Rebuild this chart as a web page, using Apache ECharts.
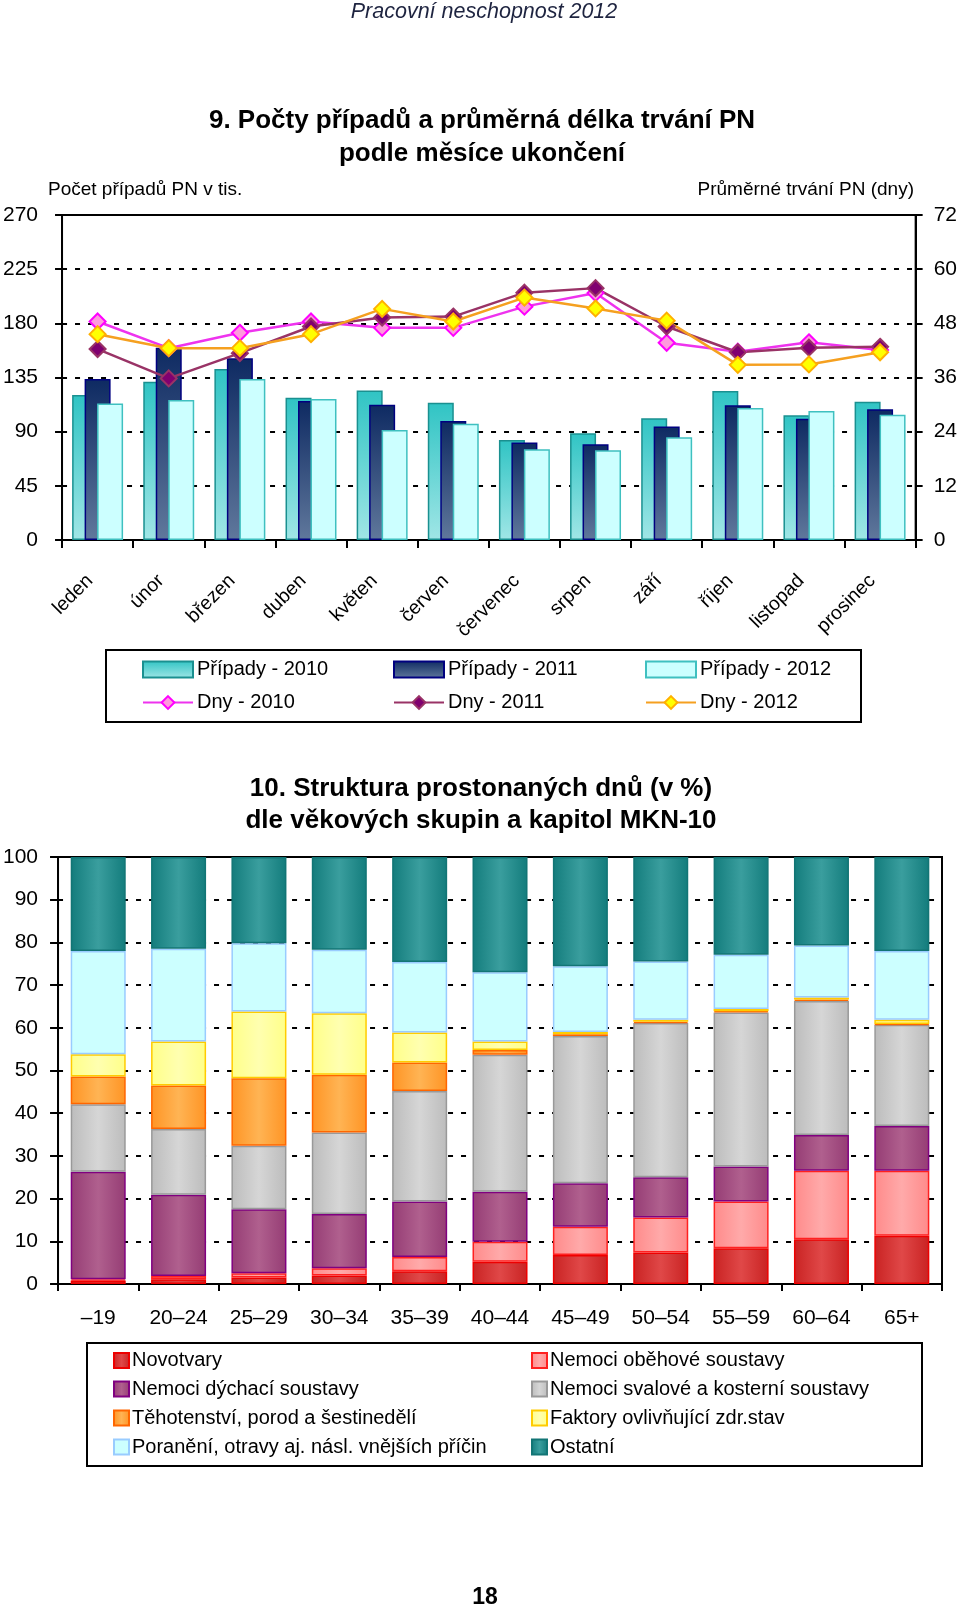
<!DOCTYPE html>
<html>
<head>
<meta charset="utf-8">
<script src="https://cdn.jsdelivr.net/npm/echarts@6/dist/echarts.min.js"></script>
<style>
html,body{margin:0;padding:0;background:#fff;}
#c{width:960px;height:1610px;}
</style>
</head>
<body>
<div id="c"></div>
<script>
// ---------- Chart 9 data ----------
const months = ['leden','únor','březen','duben','květen','červen','červenec','srpen','září','říjen','listopad','prosinec'];
const pripady2010 = [120.5,131.5,142,118.2,124.3,114.1,83.1,88.6,101.1,123.8,103.6,114.9];
const pripady2011 = [133.8,159.8,151,115.5,112.4,98.9,80.9,79.5,94.2,111.9,100.8,108.6];
const pripady2012 = [113.5,116.3,133.8,117.1,91.4,96.6,75.3,74.5,85.3,109.7,107.2,104.1];
const dny2010 = [48.4,42.5,45.9,48.4,47.0,47.0,51.7,54.7,43.7,41.7,43.8,42.1];
const dny2011 = [42.3,35.8,41.4,47.3,49.3,49.5,54.8,55.8,47.3,41.6,42.6,42.8];
const dny2012 = [45.6,42.5,42.5,45.6,51.2,48.4,53.7,51.3,48.6,38.8,38.9,41.6];
const leftTicks = [0,45,90,135,180,225,270];
const rightTicks = [0,12,24,36,48,60,72];

// ---------- Chart 10 data ----------
const ageGroups = ['–19','20–24','25–29','30–34','35–39','40–44','45–49','50–54','55–59','60–64','65+'];
const novotvary  = [0.8,1.1,1.5,2.0,3.0,5.2,6.8,7.4,8.4,10.5,11.3];
const obehove    = [0.3,0.8,1.0,1.7,3.3,4.7,6.6,8.2,10.9,16.0,15.2];
const dychaci    = [25.2,19.0,15.0,12.7,13.0,11.7,10.2,9.4,8.2,8.4,10.5];
const svalove    = [15.8,15.4,14.9,19.1,25.9,32.1,34.5,36.1,36.1,31.4,23.7];
const tehotenstvi= [6.5,10.2,15.8,13.5,6.7,1.1,0.4,0.3,0.3,0.3,0.2];
const faktory    = [5.2,10.3,15.6,14.4,7.0,2.0,0.5,0.5,0.5,0.5,1.0];
const poraneni   = [24.2,21.7,16.0,14.9,16.5,16.2,15.4,13.6,12.7,12.2,16.1];
const ostatni    = [22.0,21.5,20.2,21.7,24.6,27.0,25.6,24.5,22.9,20.7,22.0];
const pctTicks = [0,10,20,30,40,50,60,70,80,90,100];

const NARROW = '"Liberation Sans Narrow","Arial Narrow","Liberation Sans",Arial,sans-serif';
const SANS = '"Liberation Sans",Arial,sans-serif';

function vgrad(top, bottom){
  return new echarts.graphic.LinearGradient(0,0,0,1,[{offset:0,color:top},{offset:1,color:bottom}]);
}
function hgrad(edge, center){
  return new echarts.graphic.LinearGradient(0,0,1,0,[{offset:0,color:edge},{offset:0.5,color:center},{offset:1,color:edge}]);
}

const chart = echarts.init(document.getElementById('c'), null, {renderer:'canvas'});

const dotted = {show:true, lineStyle:{color:'#000', width:2, type:[5,8]}};

const barSeries = [
  {name:'Případy - 2010', data:pripady2010, color:vgrad('#30c4c4','#a0e6e6'), border:'#1a9090'},
  {name:'Případy - 2011', data:pripady2011, color:vgrad('#0e2a62','#60789c'), border:'#000080'},
  {name:'Případy - 2012', data:pripady2012, color:'#ccffff', border:'#3fc0c0'}
].map(s => ({
  name:s.name, type:'bar', xAxisIndex:0, yAxisIndex:0, data:s.data,
  barWidth:26, barGap:'-52%',
  itemStyle:{color:s.color, borderColor:s.border, borderWidth:1.5},
  z:2
}));

const lineSeries = [
  {name:'Dny - 2010', data:dny2010, line:'#ee33ee', fill:'#ff99dd', border:'#ff00ff'},
  {name:'Dny - 2011', data:dny2011, line:'#993366', fill:'#800070', border:'#993366'},
  {name:'Dny - 2012', data:dny2012, line:'#f5a020', fill:'#ffff00', border:'#ffb000'}
].map(s => ({
  name:s.name, type:'line', xAxisIndex:0, yAxisIndex:1, data:s.data,
  symbol:'diamond', symbolSize:[16,16],
  lineStyle:{color:s.line, width:2.5},
  itemStyle:{color:s.fill, borderColor:s.border, borderWidth:2},
  z:5
}));

const stackDefs = [
  {name:'Novotvary', data:novotvary, color:hgrad('#c92222','#e04848'), border:'#ee0000'},
  {name:'Nemoci oběhové soustavy', data:obehove, color:hgrad('#ff8a8a','#ffaaaa'), border:'#ff2020'},
  {name:'Nemoci dýchací soustavy', data:dychaci, color:hgrad('#953c74','#b0608e'), border:'#800080'},
  {name:'Nemoci svalové a kosterní soustavy', data:svalove, color:hgrad('#bcbcbc','#d6d6d6'), border:'#999999'},
  {name:'Těhotenství, porod a šestinedělí', data:tehotenstvi, color:hgrad('#ff9424','#ffb454'), border:'#ff6600'},
  {name:'Faktory ovlivňující zdr.stav', data:faktory, color:hgrad('#ffff88','#ffffb0'), border:'#ffcc00'},
  {name:'Poranění, otravy aj. násl. vnějších příčin', data:poraneni, color:'#ccffff', border:'#99ccff'},
  {name:'Ostatní', data:ostatni, color:hgrad('#137c7c','#3a9e9e'), border:'#127575'}
];
const stackSeries = stackDefs.map(s => ({
  name:s.name, type:'bar', xAxisIndex:1, yAxisIndex:2, stack:'all', data:s.data,
  barWidth:55,
  itemStyle:{color:s.color, borderColor:s.border, borderWidth:1.5},
  z:2
}));

// legends
const legends = [];
const topCols = [142, 393, 645];
const topRows = [669.5, 702.5];
barSeries.forEach((s,i)=>{
  legends.push({data:[s.name], left:topCols[i], top:topRows[0]-10, padding:0, itemWidth:50, itemHeight:16, itemGap:0,
    icon:'rect', textStyle:{fontFamily:NARROW, fontSize:20, color:'#000', padding:[0,0,0,-1]}, selectedMode:false});
});
lineSeries.forEach((s,i)=>{
  legends.push({data:[s.name], left:topCols[i], top:topRows[1]-10, padding:0, itemWidth:50, itemHeight:16, itemGap:0,
    textStyle:{fontFamily:NARROW, fontSize:20, color:'#000', padding:[0,0,0,-1]}, selectedMode:false});
});
const botCols = [113, 531];
const botRows = [1360.5, 1389, 1418, 1447];
const botOrder = [
  ['Novotvary',0,0],['Nemoci oběhové soustavy',1,0],
  ['Nemoci dýchací soustavy',0,1],['Nemoci svalové a kosterní soustavy',1,1],
  ['Těhotenství, porod a šestinedělí',0,2],['Faktory ovlivňující zdr.stav',1,2],
  ['Poranění, otravy aj. násl. vnějších příčin',0,3],['Ostatní',1,3]
];
botOrder.forEach(([n,c,r])=>{
  legends.push({data:[n], left:botCols[c], top:botRows[r]-10, padding:0, itemWidth:15, itemHeight:15, itemGap:0,
    icon:'rect', textStyle:{fontFamily:NARROW, fontSize:20, color:'#000', padding:[0,0,0,-2]}, selectedMode:false});
});

const option = {
  animation:false,
  backgroundColor:'#fff',
  grid:[
    {left:60, right:43, top:215, bottom:1610-540, show:true, borderColor:'#000', borderWidth:2, backgroundColor:'transparent'},
    {left:56, right:18, top:857, bottom:1610-1284, show:true, borderColor:'#000', borderWidth:2, backgroundColor:'transparent'}
  ],
  xAxis:[
    {type:'category', gridIndex:0, data:months, boundaryGap:true,
     axisLine:{show:true, lineStyle:{color:'#000', width:2}},
     axisTick:{show:true, length:8, lineStyle:{color:'#000', width:2}, alignWithLabel:false},
     axisLabel:{rotate:45, margin:30, padding:[0,11,0,0], fontFamily:NARROW, fontSize:19.5, color:'#000', interval:0}},
    {type:'category', gridIndex:1, data:ageGroups, boundaryGap:true,
     axisLine:{show:true, lineStyle:{color:'#000', width:2}},
     axisTick:{show:true, length:7, lineStyle:{color:'#000', width:2}},
     axisLabel:{margin:24, fontFamily:NARROW, fontSize:21, color:'#000', interval:0}}
  ],
  yAxis:[
    {type:'value', gridIndex:0, min:0, max:270, interval:45, position:'left',
     axisLine:{show:true, lineStyle:{color:'#000', width:2}},
     axisTick:{show:true, length:7, lineStyle:{color:'#000', width:2}},
     axisLabel:{margin:24, fontFamily:NARROW, fontSize:21, color:'#000'},
     splitLine:dotted},
    {type:'value', gridIndex:0, min:0, max:72, interval:12, position:'right',
     axisLine:{show:true, lineStyle:{color:'#000', width:2}},
     axisTick:{show:true, length:7, lineStyle:{color:'#000', width:2}},
     axisLabel:{margin:18, fontFamily:NARROW, fontSize:21, color:'#000'},
     splitLine:{show:false}},
    {type:'value', gridIndex:1, min:0, max:100, interval:10, position:'left',
     axisLine:{show:true, lineStyle:{color:'#000', width:2}},
     axisTick:{show:true, length:8, lineStyle:{color:'#000', width:2}},
     axisLabel:{margin:20, fontFamily:NARROW, fontSize:21, color:'#000'},
     splitLine:dotted}
  ],
  legend:legends,
  series:[...barSeries, ...lineSeries, ...stackSeries],
  graphic:[
    {type:'text', x:484, y:12, style:{text:'Pracovní neschopnost 2012', font:'italic 21.5px '+SANS, fill:'#1e2440', textAlign:'center', textVerticalAlign:'middle'}},
    {type:'text', x:482, y:121, style:{text:'9. Počty případů a průměrná délka trvání PN', font:'bold 26px '+SANS, fill:'#000', textAlign:'center', textVerticalAlign:'middle'}},
    {type:'text', x:482, y:154, style:{text:'podle měsíce ukončení', font:'bold 26px '+SANS, fill:'#000', textAlign:'center', textVerticalAlign:'middle'}},
    {type:'text', x:48, y:190, style:{text:'Počet případů PN v tis.', font:'19px '+NARROW, fill:'#000', textAlign:'left', textVerticalAlign:'middle'}},
    {type:'text', x:914, y:190, style:{text:'Průměrné trvání PN (dny)', font:'19px '+NARROW, fill:'#000', textAlign:'right', textVerticalAlign:'middle'}},
    {type:'rect', shape:{x:106, y:650, width:755, height:72}, style:{fill:'none', stroke:'#000', lineWidth:2}, z:-1},
    {type:'text', x:481, y:789, style:{text:'10. Struktura prostonaných dnů (v %)', font:'bold 26px '+NARROW, fill:'#000', textAlign:'center', textVerticalAlign:'middle'}},
    {type:'text', x:481, y:821, style:{text:'dle věkových skupin a kapitol MKN-10', font:'bold 26px '+NARROW, fill:'#000', textAlign:'center', textVerticalAlign:'middle'}},
    {type:'rect', shape:{x:87, y:1343, width:835, height:123}, style:{fill:'none', stroke:'#000', lineWidth:2}, z:-1},
    {type:'text', x:485, y:1598, style:{text:'18', font:'bold 23px '+SANS, fill:'#000', textAlign:'center', textVerticalAlign:'middle'}}
  ]
};
chart.setOption(option);
</script>
</body>
</html>
